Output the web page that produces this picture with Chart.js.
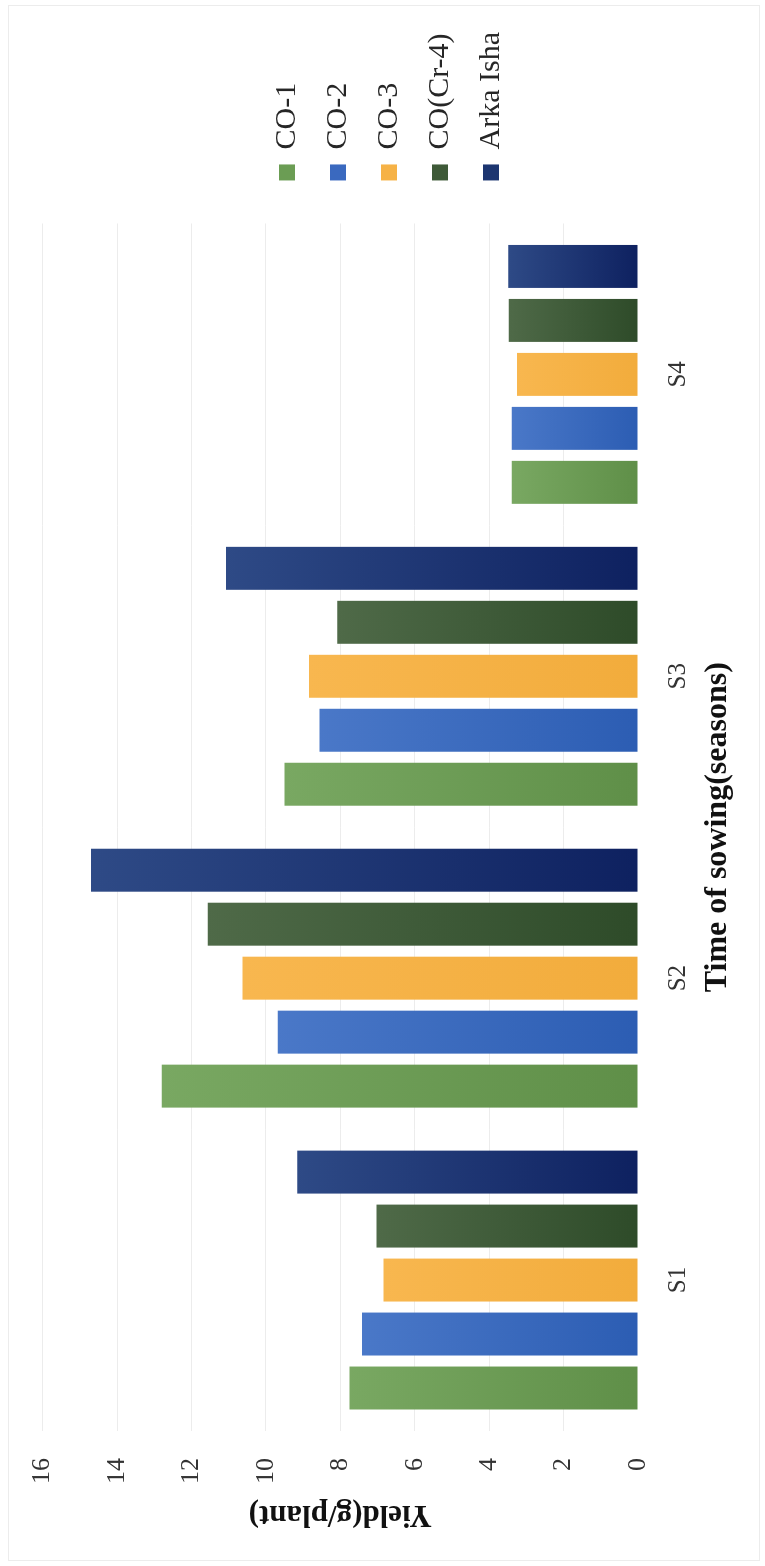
<!DOCTYPE html>
<html>
<head>
<meta charset="utf-8">
<title>Yield by time of sowing</title>
<script src="https://cdn.jsdelivr.net/npm/chart.js@4.4.1/dist/chart.umd.min.js"></script>
<style>
  html, body { margin: 0; padding: 0; background: #ffffff; overflow: hidden; }
  body { width: 765px; height: 1566px; position: relative; }
  #frame {
    position: absolute; left: 8px; top: 5px; width: 752px; height: 1556px;
    border: 1px solid #ececec; box-sizing: border-box;
  }
  /* the chart is laid out landscape and turned a quarter turn on the page */
  #stage {
    position: absolute; left: 0; top: 0; width: 1566px; height: 765px;
    transform-origin: 0 0; transform: translateY(1566px) rotate(-90deg);
  }
</style>
</head>
<body>
<div id="frame"></div>
<div id="stage"><canvas id="yieldChart" width="1566" height="765"></canvas></div>
<script>
// Time of sowing (categories)
const seasons = ['S1', 'S2', 'S3', 'S4'];
// Varieties (series)
const varieties = ['CO-1', 'CO-2', 'CO-3', 'CO(Cr-4)', 'Arka Isha'];
// Yield (g/plant) per season
const co1Yield  = [7.75, 12.80, 9.50, 3.39];
const co2Yield  = [7.42, 9.68, 8.56, 3.39];
const co3Yield  = [6.84, 10.63, 8.84, 3.25];
const cr4Yield  = [7.03, 11.56, 8.08, 3.47];
const arkaYield = [9.16, 14.70, 11.07, 3.49];
// Value axis ticks
const yieldTicks = [0, 2, 4, 6, 8, 10, 12, 14, 16];

const seriesValues = [co1Yield, co2Yield, co3Yield, cr4Yield, arkaYield];
// fill shades per variety: [tip, base, legend swatch]
const seriesShades = [
  ['#79a862', '#5f8f48', '#6b9d54'],
  ['#4a78c8', '#2c5db3', '#3a69bf'],
  ['#f8b74f', '#f2ac3c', '#f6b246'],
  ['#4f6a48', '#2e4b29', '#3e5a38'],
  ['#2e4a86', '#0e2160', '#1c3570']
];

const FONT = "'Liberation Serif', 'Times New Roman', serif";

function barFill(tip, base) {
  return (ctx) => {
    const chart = ctx.chart;
    const y = chart.scales && chart.scales.y;
    if (!y || ctx.type !== 'data') return base;
    const top = y.getPixelForValue(ctx.raw);
    const bottom = y.getPixelForValue(0);
    if (!isFinite(top) || !isFinite(bottom) || top === bottom) return base;
    const g = chart.ctx.createLinearGradient(0, top, 0, bottom);
    g.addColorStop(0, tip);
    g.addColorStop(1, base);
    return g;
  };
}

const datasets = varieties.map((name, i) => ({
  label: name,
  data: seriesValues[i],
  backgroundColor: barFill(seriesShades[i][0], seriesShades[i][1]),
  borderWidth: 0,
  categoryPercentage: 0.894,
  barPercentage: 0.796
}));

new Chart(document.getElementById('yieldChart'), {
  type: 'bar',
  data: { labels: seasons, datasets },
  options: {
    responsive: false,
    animation: false,
    devicePixelRatio: 1,
    layout: { padding: { top: 40, bottom: 27, left: 0, right: 22 } },
    plugins: {
      tooltip: { enabled: false },
      legend: {
        position: 'right',
        align: 'center',
        labels: {
          boxWidth: 16,
          boxHeight: 16,
          padding: 21,
          color: '#262626',
          font: { family: FONT, size: 30 },
          generateLabels: (chart) => {
            const items = Chart.defaults.plugins.legend.labels.generateLabels(chart);
            items.forEach((it, i) => {
              it.fillStyle = seriesShades[i][2];
              it.strokeStyle = seriesShades[i][2];
              it.lineWidth = 0;
            });
            return items;
          }
        }
      }
    },
    scales: {
      x: {
        grid: { display: false },
        border: { display: false },
        ticks: { color: '#333333', padding: 17, font: { family: FONT, size: 25 } },
        title: {
          display: true,
          text: 'Time of sowing(seasons)',
          color: '#111111',
          font: { family: FONT, size: 32, weight: 'bold' },
          padding: { top: 0, bottom: 1 }
        },
        afterFit: (s) => { s.height = 100; }
      },
      y: {
        min: yieldTicks[0],
        max: yieldTicks[yieldTicks.length - 1],
        afterBuildTicks: (s) => { s.ticks = yieldTicks.map(v => ({ value: v })); },
        grid: {
          drawTicks: false,
          lineWidth: 1,
          color: (c) => (c.tick && c.tick.value === 0) ? 'rgba(0,0,0,0)' : '#ececec'
        },
        border: { display: false },
        ticks: { color: '#333333', padding: 27, font: { family: FONT, size: 26 } },
        title: {
          display: true,
          text: 'Yield(g/plant)',
          color: '#111111',
          font: { family: FONT, size: 31, weight: 'bold' },
          padding: { top: 33, bottom: 0 }
        },
        afterFit: (s) => { s.width = 135; }
      },
      // empty gap between the plot and the legend
      gap: {
        type: 'linear',
        position: 'right',
        display: true,
        grid: { display: false },
        border: { display: false },
        ticks: { display: false },
        afterFit: (s) => { s.width = 22; }
      }
    }
  }
});
</script>
</body>
</html>
